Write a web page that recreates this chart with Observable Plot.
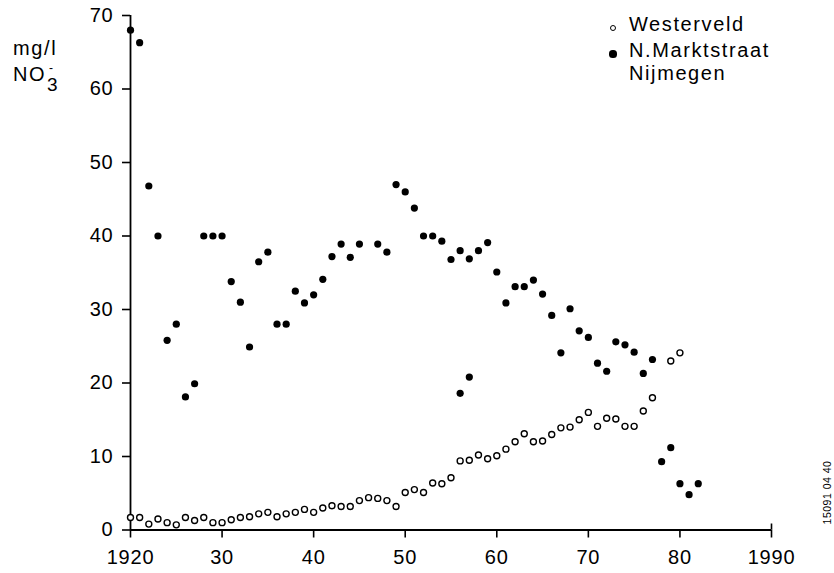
<!DOCTYPE html>
<html>
<head>
<meta charset="utf-8">
<script src="https://cdn.jsdelivr.net/npm/d3@7"></script>
<script src="https://cdn.jsdelivr.net/npm/@observablehq/plot@0.6"></script>
<style>
  html, body { margin: 0; padding: 0; background: white; }
  #wrap { position: relative; width: 834px; height: 573px; font-family: "Liberation Sans", Arial, sans-serif; color: black; }
  #wrap svg g[aria-label*="axis"] line, #wrap svg g[aria-label*="axis"] path { stroke-width: 1.6px; stroke: black; }
  #wrap svg g[aria-label*="axis"] text { letter-spacing: 0.8px; }
  .lab { position: absolute; font-size: 20px; line-height: 20px; letter-spacing: 1.6px; white-space: nowrap; }
  .sym { position: absolute; border-radius: 50%; box-sizing: border-box; }
  .vert { position: absolute; font-size: 10.5px; line-height: 11px; letter-spacing: 0.5px; white-space: nowrap; transform: rotate(-90deg); transform-origin: center; }
</style>
</head>
<body>
<div id="wrap"></div>
<script>
// Westerveld (open circles)
const westYears = [1920,1921,1922,1923,1924,1925,1926,1927,1928,1929,
  1930,1931,1932,1933,1934,1935,1936,1937,1938,1939,
  1940,1941,1942,1943,1944,1945,1946,1947,1948,1949,
  1950,1951,1952,1953,1954,1955,1956,1957,1958,1959,
  1960,1961,1962,1963,1964,1965,1966,1967,1968,1969,
  1970,1971,1972,1973,1974,1975,1976,1977,1979,1980];
const westValues = [1.7,1.7,0.8,1.5,1.0,0.7,1.7,1.3,1.7,1.0,
  1.0,1.4,1.7,1.8,2.2,2.4,1.8,2.2,2.4,2.8,
  2.4,3.0,3.3,3.2,3.2,4.0,4.4,4.3,4.0,3.2,
  5.1,5.5,5.1,6.4,6.3,7.1,9.4,9.5,10.2,9.7,
  10.1,11.0,12.0,13.1,12.0,12.1,13.0,13.9,14.0,15.0,
  16.0,14.1,15.2,15.1,14.1,14.1,16.2,18.0,23.0,24.1];

// N.Marktstraat Nijmegen (filled dots)
const marktYears = [1920,1921,1922,1923,1924,1925,1926,1927,1928,1929,
  1930,1931,1932,1933,1934,1935,1936,1937,1938,1939,
  1940,1941,1942,1943,1944,1945,1947,1948,1949,
  1950,1951,1952,1953,1954,1955,1956,1956,1957,1957,1958,1959,
  1960,1961,1962,1963,1964,1965,1966,1967,1968,1969,
  1970,1971,1972,1973,1974,1975,1976,1977,1978,1979,
  1980,1981,1982];
const marktValues = [68.0,66.3,46.8,40.0,25.8,28.0,18.1,19.9,40.0,40.0,
  40.0,33.8,31.0,24.9,36.5,37.8,28.0,28.0,32.5,30.9,
  32.0,34.1,37.2,38.9,37.1,38.9,38.9,37.8,47.0,
  46.0,43.8,40.0,40.0,39.3,36.8,38.0,18.6,36.9,20.8,38.0,39.1,
  35.1,30.9,33.1,33.1,34.0,32.1,29.2,24.1,30.1,27.1,
  26.2,22.7,21.6,25.6,25.2,24.2,21.3,23.2,9.3,11.2,
  6.3,4.8,6.3];

const xTicks = [1920,1930,1940,1950,1960,1970,1980,1990];
const xTickLabels = ["1920","30","40","50","60","70","80","1990"];
const yTicks = [0,10,20,30,40,50,60,70];

const legendLabels = ["Westerveld", "N.Marktstraat", "Nijmegen"];
const unitLabel = "mg/l";
const unitFormula = ["NO", "3", "-"];
const figCode = "15091 04 40";

const west = westYears.map((year, i) => ({year, value: westValues[i]}));
const markt = marktYears.map((year, i) => ({year, value: marktValues[i]}));

const chart = Plot.plot({
  width: 834,
  height: 573,
  marginLeft: 130,
  marginRight: 63,
  marginTop: 15,
  marginBottom: 43.5,
  style: {fontFamily: "'Liberation Sans', Arial, sans-serif", fontSize: "20px", color: "black", background: "white", overflow: "visible"},
  x: {domain: [1920, 1990], ticks: xTicks, tickFormat: d => xTickLabels[xTicks.indexOf(d)], tickSize: 8, tickPadding: 12, label: null},
  y: {domain: [0, 70], ticks: yTicks, tickSize: 8, tickPadding: 9, label: null},
  marks: [
    Plot.ruleY([0], {stroke: "black", strokeWidth: 1.8}),
    Plot.ruleX([1920], {stroke: "black", strokeWidth: 1.8}),
    Plot.ruleX([1990], {y1: 0, y2: 0, insetTop: -6, stroke: "black", strokeWidth: 1.6}),
    Plot.dot(west, {x: "year", y: "value", r: 3, stroke: "black", fill: "white", strokeWidth: 1.4}),
    Plot.dot(markt, {x: "year", y: "value", r: 3.6, fill: "black", stroke: "none"})
  ]
});

const wrap = document.getElementById("wrap");
wrap.appendChild(chart);

function addLabel(text, left, top, cls = "lab", extra = {}) {
  const d = document.createElement("div");
  d.className = cls;
  d.style.left = left + "px";
  d.style.top = top + "px";
  Object.assign(d.style, extra);
  d.textContent = text;
  wrap.appendChild(d);
  return d;
}
function addSym(cx, cy, r, filled) {
  const d = document.createElement("div");
  d.className = "sym";
  d.style.left = (cx - r) + "px";
  d.style.top = (cy - r) + "px";
  d.style.width = (2 * r) + "px";
  d.style.height = (2 * r) + "px";
  d.style.background = filled ? "black" : "white";
  d.style.border = filled ? "none" : "1.4px solid black";
  wrap.appendChild(d);
}

// unit label
addLabel(unitLabel, 13, 38);
addLabel(unitFormula[0], 13, 64);
addLabel(unitFormula[1], 47, 75, "lab", {fontSize: "19px", lineHeight: "19px", letterSpacing: "0"});
addLabel(unitFormula[2], 49, 61.5, "lab", {fontSize: "12px", lineHeight: "12px", letterSpacing: "0"});

// legend
addSym(613, 28, 3.4, false);
addSym(613, 54, 3.6, true);
addLabel(legendLabels[0], 629, 14);
addLabel(legendLabels[1], 629, 40);
addLabel(legendLabels[2], 629, 63);

// vertical figure code
const v = addLabel(figCode, 0, 0, "vert");
v.style.left = (828 - v.offsetWidth / 2) + "px";
v.style.top = (492 - v.offsetHeight / 2) + "px";
</script>
</body>
</html>
